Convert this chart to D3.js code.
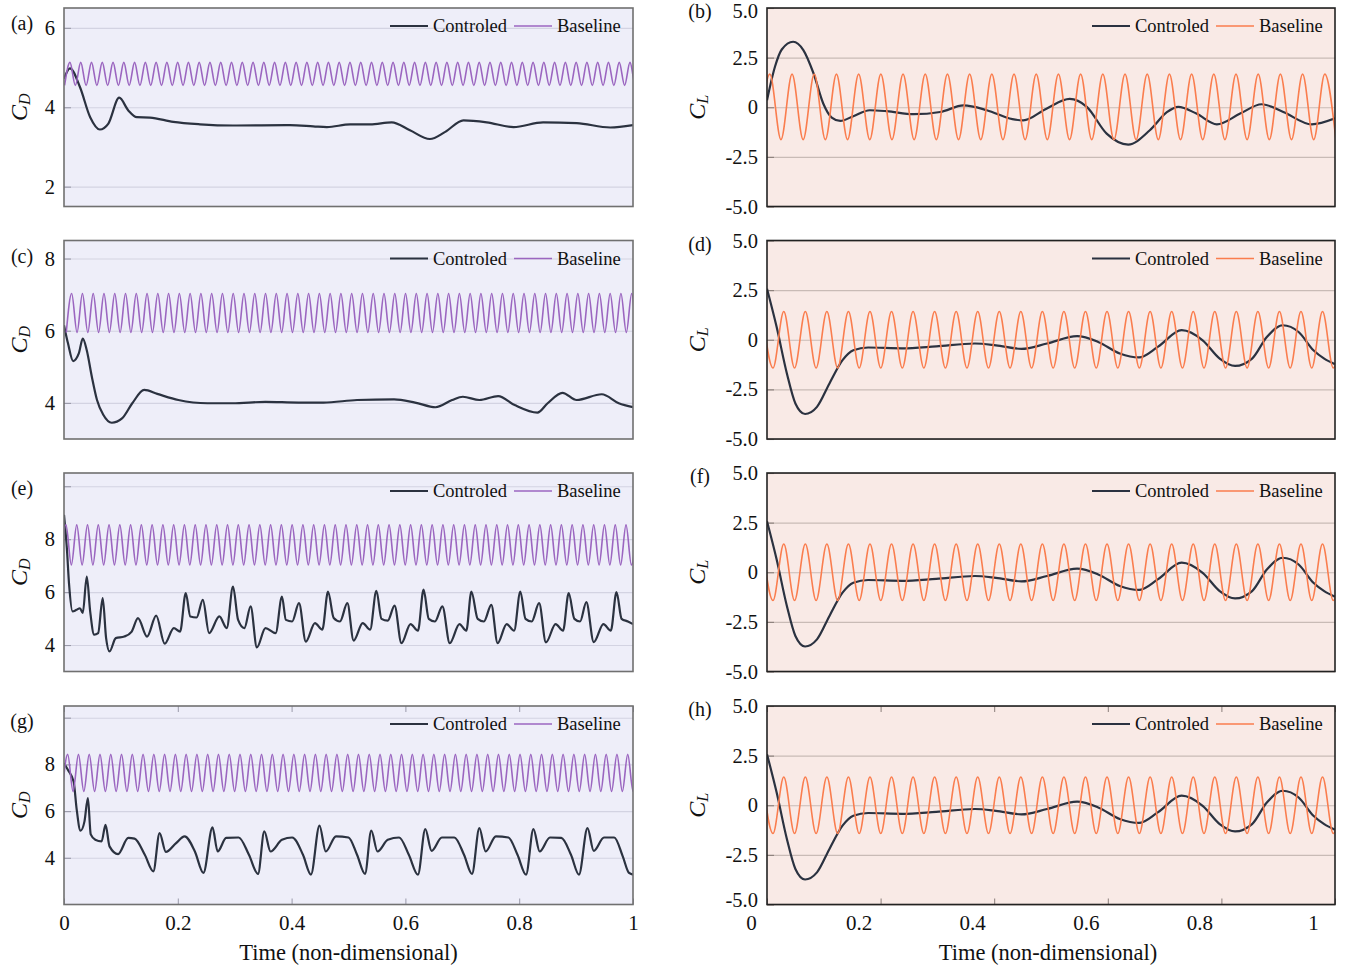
<!DOCTYPE html>
<html>
<head>
<meta charset="utf-8">
<script src="https://cdn.jsdelivr.net/npm/d3@7/dist/d3.min.js"></script>
<style>
  body { margin: 0; background: #fff; }
  text { font-family: "Liberation Serif", "Times New Roman", serif; fill: #111; }
</style>
</head>
<body>
<script>
// ---- data ----
var timeTicks = [0, 0.2, 0.4, 0.6, 0.8, 1];
var timeTickLabels = ["0", "0.2", "0.4", "0.6", "0.8", "1"];
var legendNames = ["Controled", "Baseline"];
var panelLetters = ["(a)", "(b)", "(c)", "(d)", "(e)", "(f)", "(g)", "(h)"];

var cdDomains = [[1.5, 6.5], [3, 8.5], [3, 10.5], [2, 10.5]];
var cdTicks = [[2, 4, 6], [4, 6, 8], [4, 6, 8, 10], [4, 6, 8, 10]];
var cdTickLabels = [["2", "4", "6"], ["4", "6", "8"], ["4", "6", "8", ""], ["4", "6", "8", ""]];
var clDomain = [-5, 5];
var clTicks = [-5, -2.5, 0, 2.5, 5];
var clTickLabels = ["-5.0", "-2.5", "0", "2.5", "5.0"];

// controlled runs: [time, coefficient]
var cdCtrlA = [[0,4.72],[0.0105,4.98],[0.028,4.51],[0.046,3.75],[0.063,3.44],[0.078,3.59],[0.097,4.24],
  [0.113,3.92],[0.128,3.75],[0.151,3.74],[0.192,3.63],[0.239,3.57],[0.297,3.54],[0.397,3.55],[0.438,3.52],
  [0.462,3.50],[0.503,3.57],[0.538,3.57],[0.576,3.62],[0.608,3.42],[0.643,3.20],[0.670,3.38],[0.702,3.67],
  [0.743,3.62],[0.790,3.50],[0.842,3.62],[0.901,3.60],[0.960,3.49],[1,3.55]];

var clCtrlB = [[0,0.35],[0.014,2.04],[0.026,2.91],[0.046,3.30],[0.064,2.88],[0.082,1.70],[0.099,0.19],
  [0.114,-0.52],[0.129,-0.69],[0.152,-0.45],[0.181,-0.15],[0.211,-0.20],[0.258,-0.35],[0.305,-0.24],
  [0.346,0.09],[0.387,-0.15],[0.432,-0.60],[0.451,-0.66],[0.492,-0.07],[0.533,0.42],[0.563,0.02],
  [0.598,-1.33],[0.636,-1.88],[0.674,-1.16],[0.704,-0.25],[0.724,0.02],[0.756,-0.32],[0.792,-0.86],
  [0.833,-0.32],[0.871,0.15],[0.909,-0.24],[0.959,-0.86],[1,-0.56]];

var cdCtrlC = [[0,6.15],[0.007,5.65],[0.016,5.16],[0.026,5.37],[0.033,5.78],[0.040,5.46],[0.049,4.72],
  [0.058,4.08],[0.069,3.67],[0.084,3.45],[0.102,3.57],[0.120,3.99],[0.141,4.36],[0.164,4.25],[0.201,4.08],
  [0.252,3.99],[0.296,3.99],[0.354,4.03],[0.412,4.01],[0.456,4.01],[0.515,4.08],[0.580,4.10],[0.617,4.01],
  [0.653,3.88],[0.682,4.08],[0.701,4.17],[0.730,4.08],[0.763,4.19],[0.792,3.94],[0.832,3.73],[0.850,3.99],
  [0.876,4.28],[0.901,4.08],[0.945,4.24],[0.975,3.99],[1,3.88]];

var clCtrlD = [[0,2.57],[0.017,0.64],[0.035,-1.70],[0.050,-3.21],[0.067,-3.74],[0.088,-3.38],[0.110,-2.20],
  [0.133,-1.03],[0.152,-0.53],[0.178,-0.39],[0.238,-0.43],[0.298,-0.33],[0.366,-0.19],[0.403,-0.28],
  [0.448,-0.46],[0.493,-0.19],[0.546,0.18],[0.583,-0.11],[0.621,-0.69],[0.655,-0.89],[0.688,-0.36],
  [0.730,0.48],[0.767,-0.03],[0.797,-0.95],[0.824,-1.32],[0.854,-0.95],[0.880,0.14],[0.908,0.73],
  [0.936,0.39],[0.962,-0.53],[0.981,-0.95],[1,-1.23]];

var cdCtrlE = [[0,8.92],[0.005,7.66],[0.009,6.27],[0.015,5.27],[0.022,5.33],[0.028,5.39],[0.033,5.21],
  [0.040,6.59],[0.046,5.27],[0.053,4.39],[0.060,4.45],[0.068,5.77],[0.074,4.26],[0.080,3.76],[0.091,4.26],
  [0.106,4.32],[0.119,4.51],[0.130,5.02],[0.146,4.32],[0.162,5.11],[0.177,4.05],[0.193,4.64],[0.204,4.51],
  [0.214,5.96],[0.222,5.08],[0.233,5.04],[0.244,5.71],[0.255,4.45],[0.273,5.08],[0.286,4.64],[0.297,6.21],
  [0.306,4.95],[0.317,4.64],[0.328,5.46],[0.339,3.91],[0.354,4.64],[0.372,4.45],[0.383,5.83],[0.390,4.95],
  [0.401,4.89],[0.413,5.58],[0.425,4.13],[0.441,4.83],[0.454,4.58],[0.464,6.02],[0.474,5.02],[0.485,4.89],
  [0.498,5.58],[0.509,4.17],[0.525,4.83],[0.538,4.58],[0.549,6.05],[0.558,4.99],[0.569,4.92],[0.581,5.49],
  [0.593,4.07],[0.609,4.79],[0.622,4.54],[0.632,6.09],[0.641,4.99],[0.652,4.89],[0.665,5.46],[0.678,4.07],
  [0.695,4.79],[0.707,4.54],[0.716,6.02],[0.727,4.99],[0.738,4.89],[0.751,5.52],[0.762,4.07],[0.778,4.79],
  [0.791,4.54],[0.802,6.02],[0.811,4.99],[0.822,4.89],[0.835,5.58],[0.847,4.10],[0.864,4.79],[0.877,4.54],
  [0.887,5.96],[0.897,4.99],[0.907,4.89],[0.918,5.62],[0.931,4.11],[0.948,4.79],[0.961,4.54],[0.971,6.00],
  [0.980,4.99],[0.991,4.89],[1,4.79]];

var clCtrlF = clCtrlD;

var cdCtrlG = [[0,8.05],[0.007,7.76],[0.017,7.26],[0.022,6.13],[0.029,5.16],[0.036,5.56],[0.042,6.56],
  [0.047,5.00],[0.055,4.77],[0.066,4.70],[0.073,5.41],[0.080,4.49],[0.095,4.16],[0.113,4.85],[0.124,4.82],
  [0.142,4.13],[0.157,3.42],[0.168,5.06],[0.179,4.25],[0.197,4.63],[0.212,4.92],[0.230,4.27],[0.245,3.35],
  [0.261,5.30],[0.270,4.27],[0.285,4.85],[0.307,4.87],[0.325,4.13],[0.341,3.31],[0.352,5.13],[0.363,4.27],
  [0.383,4.77],[0.401,4.87],[0.420,4.13],[0.434,3.28],[0.449,5.38],[0.460,4.27],[0.478,4.92],[0.500,4.87],
  [0.515,4.13],[0.529,3.31],[0.540,5.16],[0.551,4.27],[0.569,4.77],[0.589,4.87],[0.606,4.13],[0.622,3.28],
  [0.635,5.23],[0.646,4.30],[0.664,4.87],[0.686,4.87],[0.703,4.13],[0.717,3.31],[0.730,5.27],[0.741,4.27],
  [0.759,4.92],[0.781,4.87],[0.797,4.13],[0.812,3.28],[0.825,5.23],[0.836,4.27],[0.854,4.87],[0.874,4.85],
  [0.891,4.13],[0.905,3.28],[0.920,5.27],[0.931,4.30],[0.949,4.87],[0.967,4.87],[0.982,4.06],[0.993,3.35],
  [1,3.28]];

var clCtrlH = clCtrlD;

// baseline runs: successive extrema, starting at baseT0 and spaced baseDt in time
var cdBaseDt = 0.009464;
var clBaseDtB = 0.01954;
var clBaseDt = 0.01897;
var cdBaseT0 = [0.001, 0.004, -0.006, -0.003];
var clBaseT0 = [-0.0145, -0.0084, -0.0084, -0.0084];

var cdBaseA = [
  4.55,5.13,4.55,5.13,4.55,5.13,4.55,5.13,4.55,5.13, 4.55,5.13,4.55,5.13,4.55,5.13,4.55,5.13,4.55,5.13,
  4.55,5.13,4.55,5.13,4.55,5.13,4.55,5.13,4.55,5.13, 4.55,5.13,4.55,5.13,4.55,5.13,4.55,5.13,4.55,5.13,
  4.55,5.13,4.55,5.13,4.55,5.13,4.55,5.13,4.55,5.13, 4.55,5.13,4.55,5.13,4.55,5.13,4.55,5.13,4.55,5.13,
  4.55,5.13,4.55,5.13,4.55,5.13,4.55,5.13,4.55,5.13, 4.55,5.13,4.55,5.13,4.55,5.13,4.55,5.13,4.55,5.13,
  4.55,5.13,4.55,5.13,4.55,5.13,4.55,5.13,4.55,5.13, 4.55,5.13,4.55,5.13,4.55,5.13,4.55,5.13,4.55,5.13,
  4.55,5.13,4.55,5.13,4.55,5.13,4.55,5.13];
var cdBaseC = [
  5.95,7.03,5.95,7.03,5.95,7.03,5.95,7.03,5.95,7.03, 5.95,7.03,5.95,7.03,5.95,7.03,5.95,7.03,5.95,7.03,
  5.95,7.03,5.95,7.03,5.95,7.03,5.95,7.03,5.95,7.03, 5.95,7.03,5.95,7.03,5.95,7.03,5.95,7.03,5.95,7.03,
  5.95,7.03,5.95,7.03,5.95,7.03,5.95,7.03,5.95,7.03, 5.95,7.03,5.95,7.03,5.95,7.03,5.95,7.03,5.95,7.03,
  5.95,7.03,5.95,7.03,5.95,7.03,5.95,7.03,5.95,7.03, 5.95,7.03,5.95,7.03,5.95,7.03,5.95,7.03,5.95,7.03,
  5.95,7.03,5.95,7.03,5.95,7.03,5.95,7.03,5.95,7.03, 5.95,7.03,5.95,7.03,5.95,7.03,5.95,7.03,5.95,7.03,
  5.95,7.03,5.95,7.03,5.95,7.03,5.95,7.03];
var cdBaseE = [
  7.03,8.54,7.03,8.54,7.03,8.54,7.03,8.54,7.03,8.54, 7.03,8.54,7.03,8.54,7.03,8.54,7.03,8.54,7.03,8.54,
  7.03,8.54,7.03,8.54,7.03,8.54,7.03,8.54,7.03,8.54, 7.03,8.54,7.03,8.54,7.03,8.54,7.03,8.54,7.03,8.54,
  7.03,8.54,7.03,8.54,7.03,8.54,7.03,8.54,7.03,8.54, 7.03,8.54,7.03,8.54,7.03,8.54,7.03,8.54,7.03,8.54,
  7.03,8.54,7.03,8.54,7.03,8.54,7.03,8.54,7.03,8.54, 7.03,8.54,7.03,8.54,7.03,8.54,7.03,8.54,7.03,8.54,
  7.03,8.54,7.03,8.54,7.03,8.54,7.03,8.54,7.03,8.54, 7.03,8.54,7.03,8.54,7.03,8.54,7.03,8.54,7.03,8.54,
  7.03,8.54,7.03,8.54,7.03,8.54,7.03,8.54];
var cdBaseG = [
  6.84,8.43,6.84,8.43,6.84,8.43,6.84,8.43,6.84,8.43, 6.84,8.43,6.84,8.43,6.84,8.43,6.84,8.43,6.84,8.43,
  6.84,8.43,6.84,8.43,6.84,8.43,6.84,8.43,6.84,8.43, 6.84,8.43,6.84,8.43,6.84,8.43,6.84,8.43,6.84,8.43,
  6.84,8.43,6.84,8.43,6.84,8.43,6.84,8.43,6.84,8.43, 6.84,8.43,6.84,8.43,6.84,8.43,6.84,8.43,6.84,8.43,
  6.84,8.43,6.84,8.43,6.84,8.43,6.84,8.43,6.84,8.43, 6.84,8.43,6.84,8.43,6.84,8.43,6.84,8.43,6.84,8.43,
  6.84,8.43,6.84,8.43,6.84,8.43,6.84,8.43,6.84,8.43, 6.84,8.43,6.84,8.43,6.84,8.43,6.84,8.43,6.84,8.43,
  6.84,8.43,6.84,8.43,6.84,8.43,6.84,8.43];
var clBaseB = [
  -1.63,1.67,-1.63,1.67,-1.63,1.67,-1.63,1.67,-1.63,1.67, -1.63,1.67,-1.63,1.67,-1.63,1.67,-1.63,1.67,-1.63,1.67,
  -1.63,1.67,-1.63,1.67,-1.63,1.67,-1.63,1.67,-1.63,1.67, -1.63,1.67,-1.63,1.67,-1.63,1.67,-1.63,1.67,-1.63,1.67,
  -1.63,1.67,-1.63,1.67,-1.63,1.67,-1.63,1.67,-1.63,1.67, -1.63,1.67,-1.63];
var clBaseD = [
  1.42,-1.42,1.42,-1.42,1.42,-1.42,1.42,-1.42,1.42,-1.42, 1.42,-1.42,1.42,-1.42,1.42,-1.42,1.42,-1.42,1.42,-1.42,
  1.42,-1.42,1.42,-1.42,1.42,-1.42,1.42,-1.42,1.42,-1.42, 1.42,-1.42,1.42,-1.42,1.42,-1.42,1.42,-1.42,1.42,-1.42,
  1.42,-1.42,1.42,-1.42,1.42,-1.42,1.42,-1.42,1.42,-1.42, 1.42,-1.42,1.42,-1.42,1.42];
var clBaseF = clBaseD;
var clBaseH = clBaseD;

// ---- layout ----
var W = 1350, H = 968;
var leftX = [64, 633], rightX = [767, 1335];
var rowTop = [8, 240.5, 473, 706], rowH = 198.5;

var ctrlColor = "#2b3240";
var cdColor = "#9b66c0";
var clColor = "#fa7d4e";

var svg = d3.select("body").append("svg")
  .attr("width", W)
  .attr("height", H);

var cdCtrl = [cdCtrlA, cdCtrlC, cdCtrlE, cdCtrlG];
var clCtrl = [clCtrlB, clCtrlD, clCtrlF, clCtrlH];
var cdBase = [cdBaseA, cdBaseC, cdBaseE, cdBaseG];
var clBase = [clBaseB, clBaseD, clBaseF, clBaseH];

var panels = [];
for (var r = 0; r < 4; r++) {
  panels.push({
    id: "p" + (2 * r), row: r, side: "left", letter: panelLetters[2 * r],
    ctrl: cdCtrl[r], base: cdBase[r], t0: cdBaseT0[r], dt: cdBaseDt,
    domain: cdDomains[r], ticks: cdTicks[r], labels: cdTickLabels[r],
    sub: "D", color: cdColor, bg: "#eeeef9", grid: "#d3d3e2", tickCol: "#9a9aaa", border: "#707070"
  });
  panels.push({
    id: "p" + (2 * r + 1), row: r, side: "right", letter: panelLetters[2 * r + 1],
    ctrl: clCtrl[r], base: clBase[r], t0: clBaseT0[r], dt: r == 0 ? clBaseDtB : clBaseDt,
    domain: clDomain, ticks: clTicks, labels: clTickLabels,
    sub: "L", color: clColor, bg: "#f9eae6", grid: "#c9bbb6", tickCol: "#8a7e7a", border: "#222"
  });
}

panels.forEach(function(p) {
  var xr = p.side == "left" ? leftX : rightX;
  var top = rowTop[p.row], bottom = top + rowH;

  var x = d3.scaleLinear().domain([0, 1]).range(xr);
  var y = d3.scaleLinear().domain(p.domain).range([bottom, top]);

  var g = svg.append("g").attr("class", "panel " + p.id);

  g.append("rect")
    .attr("x", xr[0]).attr("y", top)
    .attr("width", xr[1] - xr[0]).attr("height", rowH)
    .attr("fill", p.bg);

  g.append("clipPath").attr("id", "clip-" + p.id)
    .append("rect")
    .attr("x", xr[0]).attr("y", top)
    .attr("width", xr[1] - xr[0]).attr("height", rowH);

  // grid + tick labels
  var gy = g.append("g")
    .attr("transform", "translate(" + xr[0] + ",0)")
    .call(d3.axisLeft(y).tickValues(p.ticks)
      .tickFormat(function(d, i) { return p.labels[i]; })
      .tickSize(-(xr[1] - xr[0])).tickPadding(9));
  gy.select(".domain").remove();
  gy.selectAll(".tick line").attr("stroke", p.grid).attr("stroke-width", 1.1);
  gy.selectAll(".tick text").attr("font-size", 20.5).attr("fill", "#111")
    .attr("font-family", "Liberation Serif, serif");
  // keep the top label of the first row inside the page
  if (p.row == 0) {
    gy.selectAll(".tick text").filter(function(d) { return d == p.domain[1]; })
      .attr("dy", "0.45em");
  }
  // lift the lowest label of the last row a little off the time labels
  if (p.row == 3 && p.side == "right") {
    gy.selectAll(".tick text").filter(function(d) { return d == p.domain[0]; })
      .attr("dy", "0.1em");
  }

  // short inner ticks
  var gt = g.append("g")
    .attr("transform", "translate(" + xr[0] + ",0)")
    .call(d3.axisLeft(y).tickValues(p.ticks).tickFormat("").tickSize(-7));
  gt.select(".domain").remove();
  gt.selectAll(".tick line").attr("stroke", p.tickCol).attr("stroke-width", 1.1);

  // bottom row gets the time axis
  if (p.row == 3) {
    var gxb = g.append("g").attr("transform", "translate(0," + bottom + ")")
      .call(d3.axisBottom(x).tickValues(timeTicks)
        .tickFormat(function(d, i) { return timeTickLabels[i]; })
        .tickSize(-6).tickPadding(11));
    gxb.select(".domain").remove();
    gxb.selectAll(".tick line").attr("stroke", p.tickCol);
    gxb.selectAll(".tick text").attr("font-size", 21).attr("fill", "#111")
      .attr("font-family", "Liberation Serif, serif")
      .attr("dx", function(d) { return p.side == "right" ? (d == 0 ? -16 : -22) : 0; });
    var gxt = g.append("g").attr("transform", "translate(0," + top + ")")
      .call(d3.axisTop(x).tickValues(timeTicks).tickFormat("").tickSize(-6));
    gxt.select(".domain").remove();
    gxt.selectAll(".tick line").attr("stroke", p.tickCol);

    g.append("text")
      .attr("x", (xr[0] + xr[1]) / 2 + (p.side == "right" ? -3 : 0))
      .attr("y", 960)
      .attr("text-anchor", "middle")
      .attr("font-size", 22.5)
      .text("Time (non-dimensional)");
  }

  var line = d3.line()
    .x(function(d) { return x(d[0]); })
    .y(function(d) { return y(d[1]); })
    .curve(d3.curveMonotoneX);

  var basePts = p.base.map(function(v, i) { return [p.t0 + i * p.dt, v]; });

  var lines = g.append("g").attr("clip-path", "url(#clip-" + p.id + ")");
  lines.append("path").datum(p.ctrl)
    .attr("d", line).attr("fill", "none")
    .attr("stroke", ctrlColor).attr("stroke-width", 2.2);
  lines.append("path").datum(basePts)
    .attr("d", line).attr("fill", "none")
    .attr("stroke", p.color).attr("stroke-width", 1.6);

  // legend (no frame)
  var ly = top + 18;
  var leg = [
    { name: legendNames[0], color: ctrlColor, w: 2.2, x0: xr[1] - 243, tx: xr[1] - 200 },
    { name: legendNames[1], color: p.color, w: 1.6, x0: xr[1] - 119, tx: xr[1] - 76 }
  ];
  leg.forEach(function(l) {
    g.append("line")
      .attr("x1", l.x0).attr("x2", l.x0 + 38)
      .attr("y1", ly).attr("y2", ly)
      .attr("stroke", l.color).attr("stroke-width", l.w);
    g.append("text")
      .attr("x", l.tx).attr("y", ly)
      .attr("dominant-baseline", "central")
      .attr("font-size", 18.5)
      .text(l.name);
  });

  // frame
  g.append("rect")
    .attr("x", xr[0]).attr("y", top)
    .attr("width", xr[1] - xr[0]).attr("height", rowH)
    .attr("fill", "none")
    .attr("stroke", p.border).attr("stroke-width", 1.6);

  // axis title C_D / C_L
  var tx = p.side == "left" ? 19 : 697;
  var yt = g.append("text")
    .attr("transform", "translate(" + tx + "," + (top + rowH / 2) + ") rotate(-90)")
    .attr("text-anchor", "middle")
    .attr("dominant-baseline", "central")
    .attr("font-size", 24);
  yt.append("tspan").attr("font-style", "italic").text("C");
  yt.append("tspan").attr("font-style", "italic").attr("font-size", 16).attr("dy", 5).text(p.sub);

  // panel letter
  g.append("text")
    .attr("x", p.side == "left" ? 22 : 700)
    .attr("y", p.side == "left" ? top + 15 : top + 3)
    .attr("text-anchor", "middle")
    .attr("dominant-baseline", "central")
    .attr("font-size", 20)
    .text(p.letter);
});
</script>
</body>
</html>
